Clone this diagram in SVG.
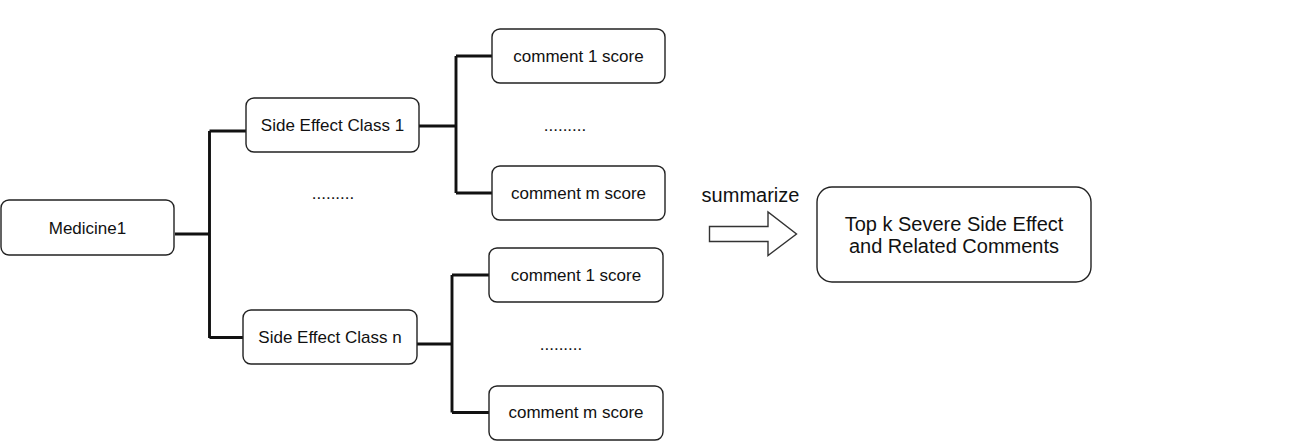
<svg xmlns="http://www.w3.org/2000/svg" width="1300" height="442" viewBox="0 0 1300 442">
<style>
.box{fill:#fff;stroke:#222;stroke-width:1.4}
.t{font-family:"Liberation Sans",Arial,sans-serif;font-size:17px;fill:#111;text-anchor:middle}
.tl{font-family:"Liberation Sans",Arial,sans-serif;font-size:20px;fill:#111;text-anchor:middle}
.c{fill:none;stroke:#111;stroke-width:2.9;stroke-linejoin:miter}
</style>
<rect width="1300" height="442" fill="#fff"/>
<g id="connectors">
<path class="c" d="M175,234 H209.5 M209.5,131 V338 M209.5,131 H246 M209.5,337.5 H243"/>
<path class="c" d="M419,126 H456 M456,56 V193 M456,56 H492 M456,193 H492"/>
<path class="c" d="M417,344 H452 M452,275 V412.5 M452,275 H489 M452,412.5 H489"/>
</g>
<g id="medicine1"><rect class="box" x="1" y="200" width="173" height="55" rx="8"/><text class="t" x="87.5" y="233.5">Medicine1</text></g>
<g id="sec1"><rect class="box" x="246" y="98" width="173" height="54" rx="8"/><text class="t" x="332.5" y="131">Side Effect Class 1</text></g>
<g id="dots-mid"><text class="t" x="333" y="199">.........</text></g>
<g id="secn"><rect class="box" x="243" y="310" width="174" height="54" rx="8"/><text class="t" x="330" y="343">Side Effect Class n</text></g>
<g id="c1a"><rect class="box" x="492" y="29" width="173" height="54" rx="8"/><text class="t" x="578.5" y="61.5">comment 1 score</text></g>
<g id="dots-a"><text class="t" x="565" y="131">.........</text></g>
<g id="cma"><rect class="box" x="492" y="166" width="173" height="54" rx="8"/><text class="t" x="578.5" y="199">comment m score</text></g>
<g id="c1b"><rect class="box" x="489" y="248" width="174" height="54" rx="8"/><text class="t" x="576" y="281">comment 1 score</text></g>
<g id="dots-b"><text class="t" x="561" y="350">.........</text></g>
<g id="cmb"><rect class="box" x="489" y="386" width="174" height="54" rx="8"/><text class="t" x="576" y="418">comment m score</text></g>
<g id="summarize">
<text class="tl" x="750.5" y="202">summarize</text>
<polygon points="709.5,226.5 768,226.5 768,212 796.5,234 768,255.5 768,241.5 709.5,241.5" fill="#fff" stroke="#333" stroke-width="1.4"/>
</g>
<g id="result"><rect class="box" x="817" y="187" width="274" height="95" rx="15"/>
<text class="tl" x="954" y="230.5">Top k Severe Side Effect</text>
<text class="tl" x="954" y="253">and Related Comments</text></g>
</svg>
